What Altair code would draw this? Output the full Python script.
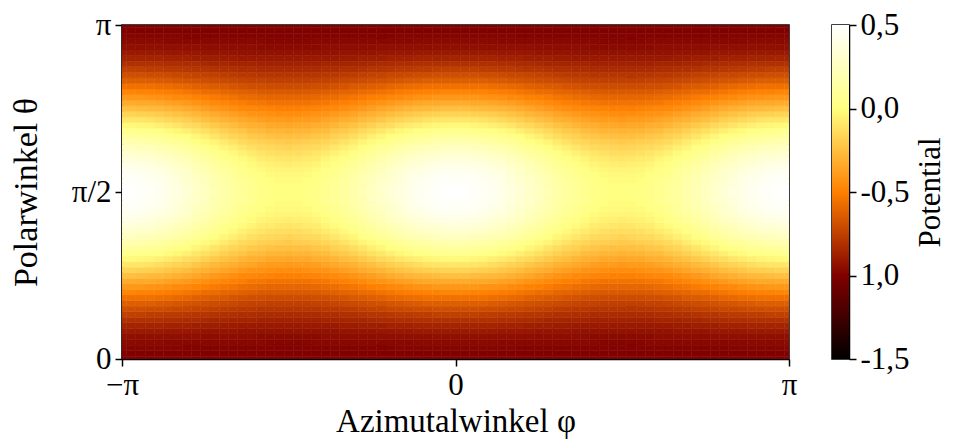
import altair as alt
import pandas as pd

# Polar angle samples (degrees) for the lower half 0..90 (picture is mirror-symmetric about pi/2)
THETA_DEG = [0, 3, 6, 9, 12, 15, 18, 21, 24, 27, 30, 33, 36, 39, 42, 45,
             48, 51, 54, 57, 60, 63, 66, 69, 72, 75, 78, 81, 84, 87, 90]
# Azimuth samples (degrees) for 0..90 (picture is symmetric about 0 and about +-pi/2)
PHI_DEG = [0, 5, 10, 15, 20, 25, 30, 35, 40, 45, 50, 55, 60, 65, 70, 75, 80, 85, 90]

# Potential: one row per THETA_DEG, one column per PHI_DEG
POTENTIAL = [
    [-1.00] * 19,
    [-1.00] * 19,
    [-0.98, -0.98, -0.98, -0.98, -0.98, -0.98, -0.98, -0.99, -0.99, -0.99, -0.99, -0.99, -0.99, -0.99, -0.99, -0.99, -0.99, -0.99, -0.99],
    [-0.96, -0.96, -0.96, -0.96, -0.96, -0.97, -0.97, -0.97, -0.97, -0.97, -0.97, -0.97, -0.97, -0.97, -0.97, -0.97, -0.98, -0.98, -0.98],
    [-0.94, -0.94, -0.94, -0.94, -0.94, -0.94, -0.94, -0.94, -0.94, -0.95, -0.95, -0.95, -0.95, -0.95, -0.95, -0.96, -0.96, -0.96, -0.96],
    [-0.90, -0.90, -0.90, -0.90, -0.90, -0.91, -0.91, -0.91, -0.91, -0.92, -0.92, -0.92, -0.92, -0.93, -0.93, -0.93, -0.93, -0.93, -0.93],
    [-0.86, -0.86, -0.86, -0.86, -0.86, -0.87, -0.87, -0.87, -0.88, -0.88, -0.88, -0.89, -0.89, -0.90, -0.90, -0.90, -0.90, -0.90, -0.90],
    [-0.81, -0.81, -0.81, -0.81, -0.81, -0.82, -0.82, -0.83, -0.83, -0.84, -0.85, -0.85, -0.86, -0.86, -0.86, -0.87, -0.87, -0.87, -0.87],
    [-0.75, -0.75, -0.75, -0.76, -0.76, -0.77, -0.77, -0.78, -0.79, -0.79, -0.80, -0.81, -0.81, -0.82, -0.82, -0.83, -0.83, -0.83, -0.83],
    [-0.69, -0.69, -0.69, -0.70, -0.70, -0.71, -0.72, -0.72, -0.73, -0.74, -0.75, -0.76, -0.77, -0.78, -0.78, -0.79, -0.79, -0.79, -0.79],
    [-0.63, -0.63, -0.63, -0.63, -0.64, -0.65, -0.66, -0.67, -0.68, -0.69, -0.70, -0.71, -0.72, -0.73, -0.74, -0.74, -0.75, -0.75, -0.75],
    [-0.56, -0.56, -0.56, -0.56, -0.57, -0.58, -0.59, -0.60, -0.62, -0.63, -0.64, -0.65, -0.67, -0.68, -0.69, -0.69, -0.70, -0.70, -0.70],
    [-0.48, -0.48, -0.49, -0.49, -0.50, -0.51, -0.52, -0.54, -0.55, -0.57, -0.58, -0.60, -0.61, -0.62, -0.63, -0.64, -0.65, -0.65, -0.65],
    [-0.41, -0.41, -0.41, -0.42, -0.43, -0.44, -0.46, -0.47, -0.49, -0.50, -0.52, -0.54, -0.55, -0.57, -0.58, -0.59, -0.60, -0.60, -0.60],
    [-0.33, -0.33, -0.34, -0.34, -0.35, -0.37, -0.38, -0.40, -0.42, -0.44, -0.46, -0.48, -0.50, -0.51, -0.53, -0.54, -0.55, -0.55, -0.55],
    [-0.25, -0.25, -0.26, -0.27, -0.28, -0.29, -0.31, -0.33, -0.35, -0.38, -0.40, -0.42, -0.44, -0.46, -0.47, -0.48, -0.49, -0.50, -0.50],
    [-0.17, -0.17, -0.18, -0.19, -0.20, -0.22, -0.24, -0.26, -0.29, -0.31, -0.33, -0.36, -0.38, -0.40, -0.42, -0.43, -0.44, -0.45, -0.45],
    [-0.09, -0.10, -0.10, -0.11, -0.13, -0.15, -0.17, -0.19, -0.22, -0.25, -0.27, -0.30, -0.32, -0.34, -0.36, -0.38, -0.39, -0.39, -0.40],
    [-0.02, -0.02, -0.03, -0.04, -0.06, -0.08, -0.10, -0.13, -0.15, -0.18, -0.21, -0.24, -0.26, -0.29, -0.31, -0.32, -0.34, -0.34, -0.35],
    [0.06, 0.05, 0.04, 0.03, 0.01, -0.01, -0.03, -0.06, -0.09, -0.12, -0.15, -0.18, -0.21, -0.23, -0.26, -0.27, -0.29, -0.29, -0.30],
    [0.13, 0.12, 0.11, 0.10, 0.08, 0.06, 0.03, 0.00, -0.03, -0.06, -0.10, -0.13, -0.16, -0.18, -0.21, -0.22, -0.24, -0.25, -0.25],
    [0.19, 0.19, 0.18, 0.16, 0.14, 0.12, 0.09, 0.06, 0.03, -0.01, -0.04, -0.08, -0.11, -0.14, -0.16, -0.18, -0.19, -0.20, -0.21],
    [0.25, 0.25, 0.24, 0.22, 0.20, 0.18, 0.15, 0.11, 0.08, 0.04, 0.01, -0.03, -0.06, -0.09, -0.12, -0.14, -0.15, -0.16, -0.17],
    [0.31, 0.30, 0.29, 0.28, 0.26, 0.23, 0.20, 0.16, 0.13, 0.09, 0.05, 0.01, -0.02, -0.05, -0.08, -0.10, -0.12, -0.13, -0.13],
    [0.36, 0.35, 0.34, 0.33, 0.30, 0.28, 0.24, 0.21, 0.17, 0.13, 0.09, 0.05, 0.02, -0.01, -0.04, -0.07, -0.08, -0.09, -0.10],
    [0.40, 0.40, 0.39, 0.37, 0.34, 0.32, 0.28, 0.25, 0.21, 0.17, 0.13, 0.09, 0.05, 0.02, -0.01, -0.04, -0.05, -0.06, -0.07],
    [0.44, 0.43, 0.42, 0.40, 0.38, 0.35, 0.32, 0.28, 0.24, 0.20, 0.15, 0.11, 0.08, 0.04, 0.01, -0.01, -0.03, -0.04, -0.04],
    [0.46, 0.46, 0.45, 0.43, 0.41, 0.38, 0.34, 0.30, 0.26, 0.22, 0.18, 0.14, 0.10, 0.06, 0.03, 0.01, -0.01, -0.02, -0.02],
    [0.48, 0.48, 0.47, 0.45, 0.43, 0.40, 0.36, 0.32, 0.28, 0.24, 0.19, 0.15, 0.11, 0.08, 0.05, 0.02, 0.00, -0.01, -0.01],
    [0.50, 0.49, 0.48, 0.46, 0.44, 0.41, 0.37, 0.33, 0.29, 0.25, 0.20, 0.16, 0.12, 0.09, 0.06, 0.03, 0.01, 0.00, 0.00],
    [0.50, 0.50, 0.48, 0.47, 0.44, 0.41, 0.38, 0.34, 0.29, 0.25, 0.21, 0.16, 0.13, 0.09, 0.06, 0.03, 0.02, 0.00, 0.00],
]

X_TICKS = [-180, 0, 180]
X_LABELS = ["\u2212\u03c0", "0", "\u03c0"]
Y_TICKS = [0, 90, 180]
Y_LABELS = ["0", "\u03c0/2", "\u03c0"]
CB_TICKS = [-1.5, -1.0, -0.5, 0.0, 0.5]
CB_LABELS = ["-1,5", "1,0", "-0,5", "0,0", "0,5"]

COLOR_DOMAIN = [-1.5, -1.0, -0.5, 0.0, 0.5]
COLOR_RANGE = ["#000000", "#800000", "#ff8000", "#ffff80", "#ffffff"]

FONT = "Liberation Serif"
FS = 31

# Build the full grid from the read quadrant using the picture's symmetry
phi_full = sorted({s * p for p in PHI_DEG for s in (1, -1)} |
                  {s * (180 - p) for p in PHI_DEG for s in (1, -1)})
theta_full = sorted(set(THETA_DEG) | {180 - t for t in THETA_DEG})
dphi = PHI_DEG[1] - PHI_DEG[0]
dth = THETA_DEG[1] - THETA_DEG[0]

rows = []
for ph in phi_full:
    a = abs(ph)
    if a > 90:
        a = 180 - a
    j = PHI_DEG.index(a)
    for th in theta_full:
        t = th if th <= 90 else 180 - th
        i = THETA_DEG.index(t)
        rows.append({"phi0": ph - dphi / 2, "phi1": ph + dphi / 2,
                     "th0": th - dth / 2, "th1": th + dth / 2,
                     "v": POTENTIAL[i][j]})
df = pd.DataFrame(rows)


def label_expr(ticks, labels):
    expr = "''"
    for t, l in zip(reversed(ticks), reversed(labels)):
        expr = f"(abs(datum.value - ({t})) < 1e-6 ? '{l}' : {expr})"
    return expr


cscale = alt.Scale(domain=COLOR_DOMAIN, range=COLOR_RANGE, interpolate="rgb")

heat = alt.Chart(df).mark_rect(clip=True, strokeWidth=0.5).encode(
    x=alt.X("phi0:Q",
            scale=alt.Scale(domain=[-180, 180], nice=False, zero=False),
            axis=alt.Axis(values=X_TICKS, labelExpr=label_expr(X_TICKS, X_LABELS),
                          title="Azimutalwinkel \u03c6", labelFlush=False,
                          titlePadding=5, titleFontSize=33)),
    x2="phi1:Q",
    y=alt.Y("th0:Q",
            scale=alt.Scale(domain=[0, 180], nice=False, zero=False),
            axis=alt.Axis(values=Y_TICKS, labelExpr=label_expr(Y_TICKS, Y_LABELS),
                          title="Polarwinkel \u03b8", labelFlush=False,
                          titlePadding=28, titleFontSize=34)),
    y2="th1:Q",
    color=alt.Color("v:Q", scale=cscale, legend=None),
    stroke=alt.Stroke("v:Q", scale=cscale, legend=None),
).properties(width=667, height=334)

n = len(COLOR_RANGE) - 1
grad = alt.Gradient(
    gradient="linear",
    stops=[alt.GradientStop(offset=k / n, color=COLOR_RANGE[n - k]) for k in range(n + 1)],
    x1=0, x2=0, y1=0, y2=1,
)

cb_df = pd.DataFrame({"lo": [COLOR_DOMAIN[0]], "hi": [COLOR_DOMAIN[-1]]})
cbar = alt.Chart(cb_df).mark_rect(fill=grad).encode(
    y=alt.Y("lo:Q",
            scale=alt.Scale(domain=[COLOR_DOMAIN[0], COLOR_DOMAIN[-1]], nice=False, zero=False),
            axis=alt.Axis(orient="right", values=CB_TICKS,
                          labelExpr=label_expr(CB_TICKS, CB_LABELS),
                          title="Potential", titleAngle=270, titleBaseline="top",
                          titlePadding=6, labelFlush=False)),
    y2="hi:Q",
    x=alt.value(0),
    x2=alt.value(17),
).properties(width=17, height=334)

chart = alt.hconcat(heat, cbar, spacing=33).properties(
    background="white",
    padding={"left": 0, "top": 0, "right": 0, "bottom": 0},
).configure_view(
    stroke="black", strokeWidth=1.5
).configure_axis(
    grid=False,
    domainColor="black", domainWidth=1.5,
    tickColor="black", tickWidth=1.5, tickSize=7,
    labelFont=FONT, labelFontSize=FS, labelColor="black", labelPadding=4,
    titleFont=FONT, titleFontSize=FS, titleFontWeight="normal", titleColor="black",
)

chart.save("out.html", embed_options={"renderer": "svg", "actions": False})
